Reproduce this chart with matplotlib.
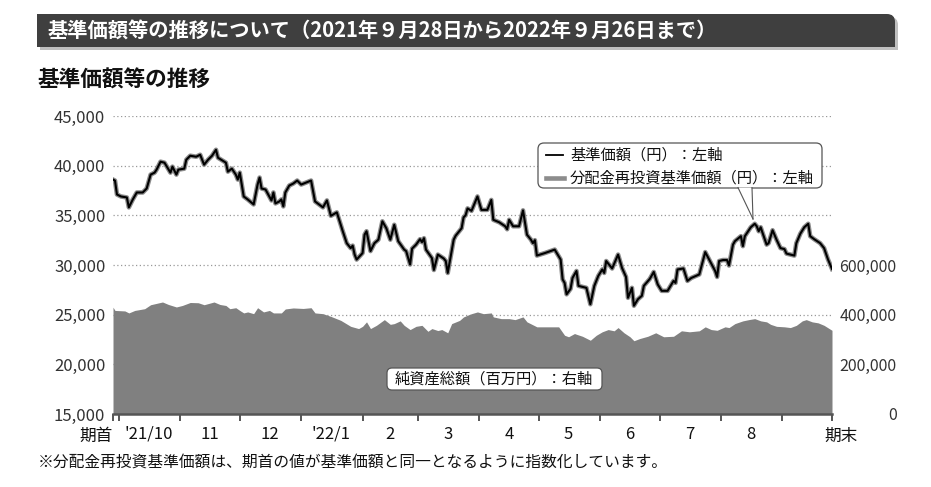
import numpy as np
import pandas as pd
import matplotlib
matplotlib.use('Agg')
import matplotlib.pyplot as plt
import matplotlib.dates as mdates
from matplotlib.patches import FancyBboxPatch, Polygon, Rectangle
from matplotlib.lines import Line2D
from matplotlib.transforms import IdentityTransform
from matplotlib.ticker import FuncFormatter

plt.rcParams['font.family'] = ['Noto Sans CJK JP', 'DejaVu Sans']

# データ
nav_dates = [
    '2021-09-28', '2021-09-29', '2021-09-30', '2021-10-02', '2021-10-05', '2021-10-06',
    '2021-10-08', '2021-10-10', '2021-10-13', '2021-10-15', '2021-10-17', '2021-10-19',
    '2021-10-20', '2021-10-22', '2021-10-24', '2021-10-27', '2021-10-28', '2021-10-30',
    '2021-10-31', '2021-11-03', '2021-11-04', '2021-11-06', '2021-11-09', '2021-11-11',
    '2021-11-13', '2021-11-15', '2021-11-17', '2021-11-19', '2021-11-20', '2021-11-24',
    '2021-11-25', '2021-11-27', '2021-11-29', '2021-11-30', '2021-12-01', '2021-12-03',
    '2021-12-05', '2021-12-08', '2021-12-10', '2021-12-11', '2021-12-12', '2021-12-14',
    '2021-12-17', '2021-12-18', '2021-12-19', '2021-12-21', '2021-12-22', '2021-12-23',
    '2021-12-24', '2021-12-26', '2021-12-28', '2021-12-30', '2022-01-01', '2022-01-06',
    '2022-01-08', '2022-01-12', '2022-01-14', '2022-01-16', '2022-01-19', '2022-01-22',
    '2022-01-24', '2022-01-26', '2022-01-27', '2022-01-28', '2022-01-29', '2022-02-01',
    '2022-02-02', '2022-02-03', '2022-02-05', '2022-02-07', '2022-02-09', '2022-02-11',
    '2022-02-13', '2022-02-15', '2022-02-17', '2022-02-19', '2022-02-22', '2022-02-23',
    '2022-02-25', '2022-02-26', '2022-02-28', '2022-03-02', '2022-03-03', '2022-03-04',
    '2022-03-05', '2022-03-08', '2022-03-09', '2022-03-11', '2022-03-14', '2022-03-15',
    '2022-03-16', '2022-03-19', '2022-03-20', '2022-03-23', '2022-03-24', '2022-03-25',
    '2022-03-26', '2022-03-28', '2022-03-31', '2022-04-02', '2022-04-05', '2022-04-07',
    '2022-04-08', '2022-04-11', '2022-04-14', '2022-04-15', '2022-04-16', '2022-04-18',
    '2022-04-21', '2022-04-23', '2022-04-25', '2022-04-27', '2022-04-28', '2022-04-29',
    '2022-04-30', '2022-05-04', '2022-05-09', '2022-05-12', '2022-05-13', '2022-05-14',
    '2022-05-15', '2022-05-17', '2022-05-18', '2022-05-20', '2022-05-21', '2022-05-23',
    '2022-05-25', '2022-05-27', '2022-05-29', '2022-05-31', '2022-06-02', '2022-06-03',
    '2022-06-04', '2022-06-07', '2022-06-10', '2022-06-12', '2022-06-14', '2022-06-15',
    '2022-06-17', '2022-06-18', '2022-06-20', '2022-06-22', '2022-06-23', '2022-06-26',
    '2022-06-28', '2022-06-30', '2022-07-02', '2022-07-05', '2022-07-08', '2022-07-09',
    '2022-07-10', '2022-07-13', '2022-07-15', '2022-07-17', '2022-07-21', '2022-07-24',
    '2022-07-27', '2022-07-29', '2022-07-30', '2022-07-31', '2022-08-02', '2022-08-04',
    '2022-08-05', '2022-08-07', '2022-08-08', '2022-08-11', '2022-08-12', '2022-08-13',
    '2022-08-16', '2022-08-18', '2022-08-19', '2022-08-20', '2022-08-21', '2022-08-22',
    '2022-08-24', '2022-08-25', '2022-08-27', '2022-08-29', '2022-08-31', '2022-09-02',
    '2022-09-03', '2022-09-07', '2022-09-08', '2022-09-10', '2022-09-12', '2022-09-14',
    '2022-09-15', '2022-09-17', '2022-09-20', '2022-09-22', '2022-09-24', '2022-09-26',
]
nav_values = [
    38600, 38500, 37100, 36900, 36800, 35800,
    36600, 37300, 37300, 37700, 39100, 39300,
    39600, 40400, 40300, 39300, 39900, 39100,
    39600, 39700, 40600, 41000, 40900, 41100,
    40100, 40600, 41000, 41600, 40800, 40300,
    39400, 39700, 39100, 38600, 39300, 36900,
    36600, 36100, 38100, 38800, 37700, 37600,
    36500, 37300, 36200, 36400, 36600, 35900,
    37300, 38000, 38200, 38500, 38100, 38500,
    36400, 35800, 36500, 34950, 35300, 33400,
    32200, 31700, 31950, 31050, 30550, 31200,
    33050, 33400, 31400, 32200, 32550, 34400,
    33700, 32550, 34050, 32400, 31550, 31400,
    30050, 31650, 32050, 32600, 32300, 32700,
    31550, 30700, 29500, 31050, 30650, 30400,
    29200, 32550, 32950, 33700, 34800, 35000,
    35700, 35450, 36900, 35550, 35550, 36550,
    34550, 34300, 33900, 33600, 34550, 33900,
    33900, 35500, 33050, 32550, 32200, 32500,
    30950, 31200, 31550, 30550, 28550, 28200,
    27050, 27600, 28700, 29400, 27900, 27800,
    27700, 26050, 27900, 28900, 29550, 29200,
    30400, 29650, 31050, 29700, 28800, 26700,
    27700, 25900, 26550, 26900, 27900, 28600,
    29300, 28050, 27400, 27400, 28400, 28200,
    29550, 29650, 28400, 28700, 29050, 31300,
    30150, 29400, 28800, 30400, 30500, 30500,
    29950, 32050, 32400, 32900, 31900, 32900,
    33800, 34150, 33900, 33400, 33800, 33200,
    32050, 32200, 33500, 32550, 31700, 31600,
    31150, 30950, 32200, 33150, 33800, 34150,
    32900, 32600, 32200, 31700, 30550, 29600,
]
# 分配金再投資基準価額（期間中の分配なし → 基準価額と同一）
reinvest_values = list(nav_values)

asset_dates = [
    '2021-09-28', '2021-09-29', '2021-10-04', '2021-10-06', '2021-10-09', '2021-10-14',
    '2021-10-17', '2021-10-23', '2021-10-26', '2021-10-30', '2021-11-02', '2021-11-06',
    '2021-11-10', '2021-11-13', '2021-11-18', '2021-11-21', '2021-11-24', '2021-11-26',
    '2021-11-29', '2021-12-01', '2021-12-03', '2021-12-05', '2021-12-08', '2021-12-10',
    '2021-12-13', '2021-12-16', '2021-12-18', '2021-12-22', '2021-12-24', '2021-12-28',
    '2022-01-02', '2022-01-06', '2022-01-08', '2022-01-12', '2022-01-16', '2022-01-21',
    '2022-01-26', '2022-01-30', '2022-02-01', '2022-02-03', '2022-02-05', '2022-02-08',
    '2022-02-12', '2022-02-15', '2022-02-17', '2022-02-20', '2022-02-22', '2022-02-25',
    '2022-02-28', '2022-03-03', '2022-03-06', '2022-03-08', '2022-03-11', '2022-03-13',
    '2022-03-16', '2022-03-18', '2022-03-22', '2022-03-24', '2022-03-27', '2022-03-28',
    '2022-03-31', '2022-04-03', '2022-04-07', '2022-04-08', '2022-04-12', '2022-04-16',
    '2022-04-19', '2022-04-23', '2022-04-25', '2022-04-30', '2022-05-05', '2022-05-11',
    '2022-05-14', '2022-05-16', '2022-05-19', '2022-05-20', '2022-05-23', '2022-05-27',
    '2022-05-30', '2022-06-02', '2022-06-05', '2022-06-08', '2022-06-10', '2022-06-13',
    '2022-06-16', '2022-06-18', '2022-06-21', '2022-06-25', '2022-06-29', '2022-07-03',
    '2022-07-08', '2022-07-12', '2022-07-16', '2022-07-21', '2022-07-24', '2022-07-27',
    '2022-07-30', '2022-08-03', '2022-08-05', '2022-08-08', '2022-08-12', '2022-08-15',
    '2022-08-18', '2022-08-21', '2022-08-24', '2022-08-26', '2022-08-29', '2022-09-02',
    '2022-09-05', '2022-09-08', '2022-09-11', '2022-09-13', '2022-09-16', '2022-09-19',
    '2022-09-22', '2022-09-26',
]
asset_values = [
    430000, 417000, 415000, 407000, 417000, 424000,
    440000, 451000, 441000, 431000, 437000, 449000,
    448000, 440000, 451000, 441000, 437000, 424000,
    428000, 417000, 407000, 411000, 404000, 428000,
    411000, 417000, 407000, 407000, 423000, 427000,
    425000, 428000, 407000, 404000, 393000, 377000,
    353000, 344000, 353000, 371000, 344000, 357000,
    380000, 361000, 364000, 375000, 357000, 340000,
    353000, 357000, 333000, 344000, 336000, 340000,
    327000, 364000, 377000, 391000, 401000, 404000,
    411000, 404000, 407000, 391000, 384000, 384000,
    380000, 391000, 371000, 351000, 351000, 351000,
    317000, 311000, 324000, 321000, 313000, 297000,
    317000, 331000, 340000, 335000, 348000, 327000,
    311000, 295000, 304000, 313000, 327000, 311000,
    313000, 335000, 331000, 335000, 351000, 340000,
    337000, 351000, 348000, 364000, 375000, 380000,
    384000, 375000, 371000, 361000, 353000, 351000,
    348000, 357000, 375000, 380000, 371000, 367000,
    357000, 337000,
]

period_start = '2021-09-28'
period_end = '2022-09-26'
month_starts = ['2021-10-01', '2021-11-01', '2021-12-01', '2022-01-01', '2022-02-01', '2022-03-01',
                '2022-04-01', '2022-05-01', '2022-06-01', '2022-07-01', '2022-08-01', '2022-09-01']
label_dates = ['2021-10-16', '2021-11-16', '2021-12-16', '2022-01-16', '2022-02-15', '2022-03-16',
               '2022-04-16', '2022-05-16', '2022-06-16', '2022-07-16', '2022-08-16']
month_labels = ["'21/10", '11', '12', "'22/1", '2', '3', '4', '5', '6', '7', '8']
left_ticks = [15000, 20000, 25000, 30000, 35000, 40000, 45000]
right_ticks = [0, 200000, 400000, 600000, 800000, 1000000, 1200000]
right_labels = ['0', '200,000', '400,000', '600,000', '', '', '']

W, H = 931, 487
PX = IdentityTransform()


def P(x, y):
    # 画像のピクセル座標（左上原点）→ 表示座標
    return x, H - y


def header_bar(x, y, w, h, color):
    # 右上だけ角丸の帯
    fig.patches.append(FancyBboxPatch(P(x, y + h), w, h, boxstyle='round,pad=0,rounding_size=8',
                                      fc=color, ec='none', transform=PX, figure=fig))
    fig.patches.append(Rectangle(P(x, y + h), w - 10, h, fc=color, ec='none', transform=PX, figure=fig))
    fig.patches.append(Rectangle(P(x, y + h), w, h - 10, fc=color, ec='none', transform=PX, figure=fig))


fig = plt.figure(figsize=(W / 100, H / 100), dpi=100)

# ヘッダー
header_bar(40, 17, 858, 33, '#bfbfbf')
header_bar(37, 14, 858, 33, '#3f3f3f')
fig.text(*P(48, 31), '基準価額等の推移について（2021年９月28日から2022年９月26日まで）',
         transform=PX, color='white', fontsize=14.6, fontweight='bold', va='center')
fig.text(*P(37, 80), '基準価額等の推移', transform=PX, fontsize=15.6, fontweight='bold',
         va='center', color='#111')

# 軸
ax = fig.add_axes([113 / W, 1 - 414 / H, (832 - 113) / W, (414 - 116) / H])
ax2 = ax.twinx()
ax.set_zorder(2)
ax2.set_zorder(1)
ax.patch.set_visible(False)

xd_nav = pd.to_datetime(nav_dates)
xd_asset = pd.to_datetime(asset_dates)
x0, x1 = pd.Timestamp(period_start), pd.Timestamp(period_end)

ax2.fill_between(xd_asset, asset_values, 0, color='#808080', lw=0, zorder=2)
ax2.set_ylim(0, 1200000)
ax2.set_yticks(right_ticks)
ax2.set_yticklabels(right_labels)
ax2.set_axisbelow(True)
ax2.yaxis.grid(True, linestyle=(0, (1, 2)), color='#999999', lw=0.9)
ax2.tick_params(axis='y', length=0, pad=46.5, labelsize=11.5, labelcolor='#333')
for lb in ax2.get_yticklabels():
    lb.set_horizontalalignment('right')

ax.plot(xd_nav, reinvest_values, color='#8c8c8c', lw=3.3, solid_joinstyle='round')
ax.plot(xd_nav, nav_values, color='black', lw=1.5, solid_joinstyle='round')
ax.set_ylim(15000, 45000)
ax.set_yticks(left_ticks)
ax.yaxis.set_major_formatter(FuncFormatter(lambda v, p: f'{int(v):,}'))
ax.tick_params(axis='y', length=0, pad=5.5, labelsize=12, labelcolor='#333')

ax.set_xlim(x0, x1)
ax.set_xticks([x0] + list(pd.to_datetime(month_starts)) + [x1])
ax.set_xticklabels([])
ax.set_xticks(pd.to_datetime(label_dates), minor=True)
ax.set_xticklabels(month_labels, minor=True)
ax.tick_params(axis='x', which='major', direction='out', length=5, width=1.4, color='#555')
ax.tick_params(axis='x', which='minor', length=0, pad=8.5, labelsize=12, labelcolor='#111')

for a in (ax, ax2):
    for s in ('top', 'left', 'right', 'bottom'):
        a.spines[s].set_visible(False)
ax.spines['bottom'].set_visible(True)
ax.spines['bottom'].set_color('#555')
ax.spines['bottom'].set_linewidth(1.8)

tr = ax.get_xaxis_transform()
ax.annotate('期首', xy=(mdates.date2num(x0), 0), xycoords=tr, xytext=(0, -15.8),
            textcoords='offset points', ha='right', va='center', fontsize=12, color='#111')
ax.annotate('期末', xy=(mdates.date2num(x1), 0), xycoords=tr, xytext=(6.5, -15.8),
            textcoords='offset points', ha='center', va='center', fontsize=12, color='#111')

# 凡例（吹き出し）
fig.patches.append(FancyBboxPatch(P(538, 188), 284, 45, boxstyle='round,pad=0,rounding_size=6',
                                  fc='white', ec='#555', lw=0.9, transform=PX, figure=fig))
fig.patches.append(Polygon([P(738.6, 187.6), P(751.6, 187.6), P(753, 219)], closed=True,
                           fc='white', ec='none', transform=PX, figure=fig))
fig.lines.append(Line2D(*zip(P(738, 187.6), P(753, 219)), color='#555', lw=0.8, transform=PX, figure=fig))
fig.lines.append(Line2D(*zip(P(752, 187.6), P(753, 219)), color='#555', lw=0.8, transform=PX, figure=fig))
fig.lines.append(Line2D(*zip(P(546, 155), P(563, 155)), color='black', lw=1.3, transform=PX, figure=fig))
fig.lines.append(Line2D(*zip(P(546, 178), P(564, 178)), color='#8c8c8c', lw=3.3, transform=PX, figure=fig))
fig.text(*P(570, 155), '基準価額（円）：左軸', transform=PX, fontsize=11, va='center', color='#111')
fig.text(*P(570, 178), '分配金再投資基準価額（円）：左軸', transform=PX, fontsize=11, va='center', color='#111')

# 純資産総額ラベル
fig.patches.append(FancyBboxPatch(P(387, 390), 215, 22, boxstyle='round,pad=0,rounding_size=5',
                                  fc='white', ec='#555', lw=0.9, transform=PX, figure=fig, zorder=5))
fig.text(*P(494, 379), '純資産総額（百万円）：右軸', transform=PX, fontsize=11, ha='center',
         va='center', color='#111', zorder=6)

fig.text(*P(38, 462), '※分配金再投資基準価額は、期首の値が基準価額と同一となるように指数化しています。',
         transform=PX, fontsize=11.3, va='center', color='#111')

fig.savefig('out.png', dpi=100)
